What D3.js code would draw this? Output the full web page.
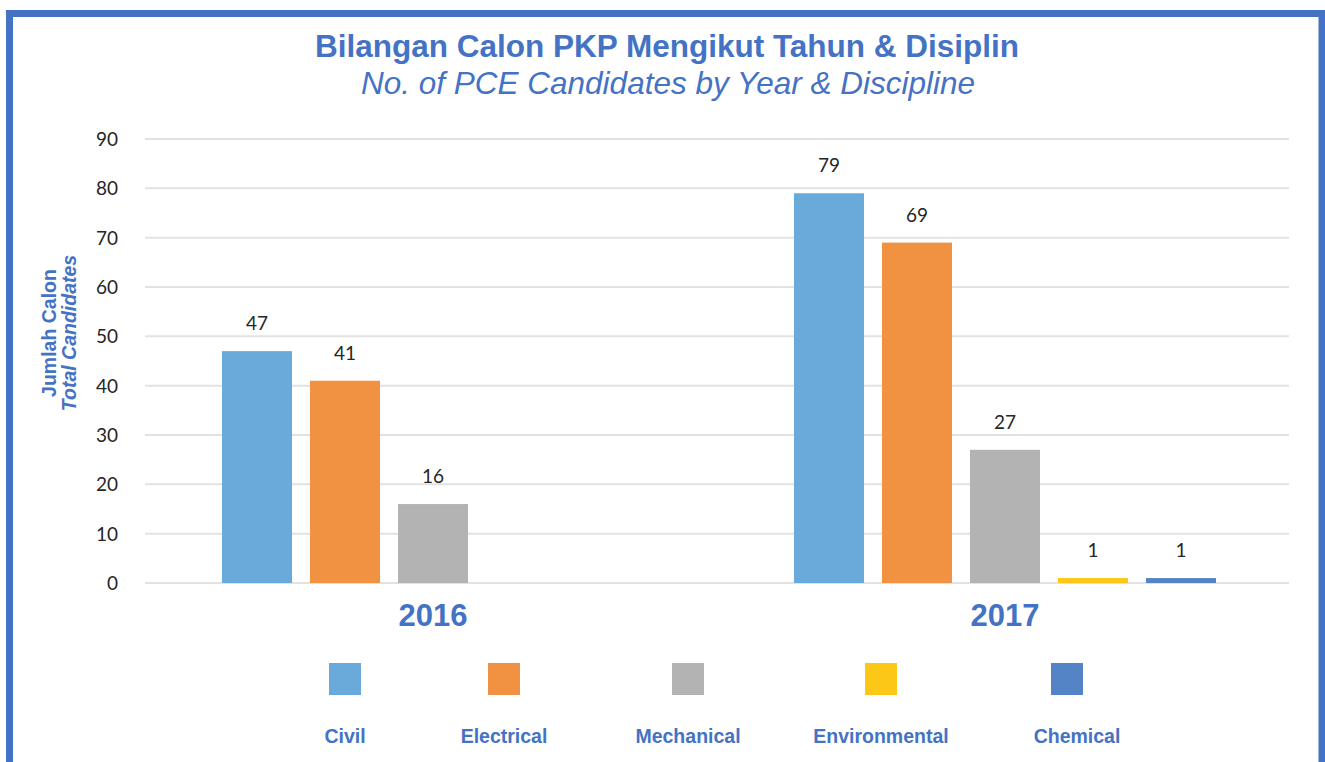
<!DOCTYPE html>
<html>
<head>
<meta charset="utf-8">
<script src="https://cdn.jsdelivr.net/npm/d3@7"></script>
<style>
  body { margin: 0; background: #fff; }
  .chart { width: 1325px; height: 762px; }
  text { font-family: "Liberation Sans", Arial, sans-serif; }
  .num { font-family: Lato, "Liberation Sans", sans-serif; fill: #262626; }
</style>
</head>
<body>
<div class="chart"></div>
<script>
(function chart() {

  'use strict';

  var years = ['2016', '2017'];
  var disciplines = ['Civil', 'Electrical', 'Mechanical', 'Environmental', 'Chemical'];
  var colors = ['#6aaadb', '#f19243', '#b3b3b3', '#fcc716', '#5584c6'];
  var values2016 = [47, 41, 16, null, null];
  var values2017 = [79, 69, 27, 1, 1];
  var yTicks = [0, 10, 20, 30, 40, 50, 60, 70, 80, 90];

  var blue = '#4472c4';
  var width = 1325;
  var height = 762;

  var margins = { top: 139, right: 36, bottom: 179, left: 145 };

  var svg = d3.select('.chart').append('svg')
    .attr('width', width)
    .attr('height', height);

  // Frame (open at the bottom)
  svg.append('path')
    .attr('d', 'M9.5,' + height + 'V13.5H1322V' + height)
    .attr('fill', 'none')
    .attr('stroke', blue)
    .attr('stroke-width', 7);

  // Titles
  svg.append('text')
    .attr('x', 667).attr('y', 57)
    .attr('text-anchor', 'middle')
    .attr('font-size', 31.5).attr('font-weight', 'bold')
    .attr('fill', blue)
    .text('Bilangan Calon PKP Mengikut Tahun & Disiplin');

  svg.append('text')
    .attr('x', 668).attr('y', 94)
    .attr('text-anchor', 'middle')
    .attr('font-size', 31.5).attr('font-style', 'italic')
    .attr('fill', blue)
    .text('No. of PCE Candidates by Year & Discipline');

  var plotW = width - margins.left - margins.right;

  var y = d3.scaleLinear()
    .domain([0, 90])
    .range([583, margins.top]);

  var x0 = d3.scaleBand()
    .domain(years)
    .range([margins.left + 2, margins.left + plotW + 2]);

  var x1 = d3.scaleBand()
    .domain(disciplines)
    .range([0, x0.bandwidth()])
    .paddingInner(0.2045)
    .paddingOuter(0.852);

  // Gridlines
  svg.append('g').selectAll('line')
    .data(yTicks)
    .enter()
    .append('line')
      .attr('x1', margins.left)
      .attr('x2', margins.left + plotW)
      .attr('y1', function (d) { return y(d); })
      .attr('y2', function (d) { return y(d); })
      .attr('stroke', '#e2e2e2')
      .attr('stroke-width', 2);

  // Y axis tick labels
  var yAxis = d3.axisLeft(y).tickValues(yTicks).tickSize(0).tickPadding(0);
  var ya = svg.append('g')
    .attr('transform', 'translate(118,0)')
    .call(yAxis);
  ya.select('.domain').remove();
  ya.selectAll('text')
    .attr('class', 'num')
    .attr('font-size', 19)
    .attr('dy', '0.35em');

  // Y axis title
  var yt = svg.append('g')
    .attr('transform', 'translate(56,333) rotate(-90)');
  yt.append('text')
    .attr('text-anchor', 'middle')
    .attr('font-size', 19.5).attr('font-weight', 'bold')
    .attr('fill', blue)
    .text('Jumlah Calon');
  yt.append('text')
    .attr('y', 20)
    .attr('text-anchor', 'middle')
    .attr('font-size', 19.5).attr('font-weight', 'bold').attr('font-style', 'italic')
    .attr('fill', blue)
    .text('Total Candidates');

  var rows = [values2016, values2017].map(function (vals, i) {
    return {
      year: years[i],
      items: disciplines.map(function (d, j) {
        return { key: d, value: vals[j], color: colors[j] };
      }).filter(function (d) { return d.value !== null; })
    };
  });

  var groups = svg.append('g').selectAll('.year')
    .data(rows)
    .enter()
    .append('g')
      .attr('class', 'year')
      .attr('transform', function (d) { return 'translate(' + x0(d.year) + ',0)'; });

  groups.selectAll('rect')
    .data(function (d) { return d.items; })
    .enter()
    .append('rect')
      .attr('x', function (d) { return x1(d.key); })
      .attr('y', function (d) { return y(d.value); })
      .attr('width', x1.bandwidth())
      .attr('height', function (d) { return y(0) - y(d.value); })
      .attr('fill', function (d) { return d.color; });

  groups.selectAll('.val')
    .data(function (d) { return d.items; })
    .enter()
    .append('text')
      .attr('class', 'num')
      .attr('x', function (d) { return x1(d.key) + x1.bandwidth() / 2; })
      .attr('y', function (d) { return y(d.value) - 21; })
      .attr('text-anchor', 'middle')
      .attr('font-size', 19)
      .text(function (d) { return d.value; });

  // Year labels
  svg.append('g').selectAll('text')
    .data(years)
    .enter()
    .append('text')
      .attr('x', function (d) { return x0(d) + x0.bandwidth() / 2; })
      .attr('y', 626)
      .attr('text-anchor', 'middle')
      .attr('font-size', 31).attr('font-weight', 'bold')
      .attr('fill', blue)
      .text(function (d) { return d; });

  // Legend
  var legendX = [345, 504, 688, 881, 1067];
  var legend = svg.append('g').selectAll('.legend')
    .data(disciplines)
    .enter()
    .append('g')
      .attr('class', 'legend')
      .attr('transform', function (d, i) { return 'translate(' + legendX[i] + ',0)'; });

  legend.append('rect')
    .attr('x', -16).attr('y', 663)
    .attr('width', 32).attr('height', 32)
    .attr('fill', function (d, i) { return colors[i]; });

  legend.append('text')
    .attr('x', function (d, i) { return i === 4 ? 10 : 0; })
    .attr('y', 743)
    .attr('text-anchor', 'middle')
    .attr('font-size', 19.5).attr('font-weight', 'bold')
    .attr('fill', blue)
    .text(function (d) { return d; });
})();
</script>
</body>
</html>
